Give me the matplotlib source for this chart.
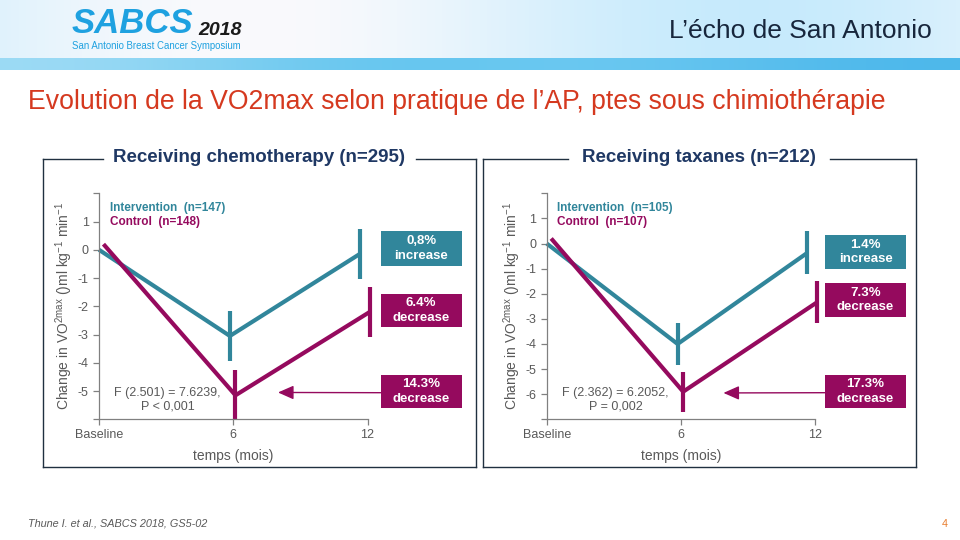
import numpy as np
import matplotlib
matplotlib.use("Agg")
import matplotlib.pyplot as plt
from matplotlib.patches import Rectangle
from matplotlib.lines import Line2D

plt.rcParams['font.family'] = ['Liberation Sans', 'DejaVu Sans']
plt.rcParams['mathtext.default'] = 'regular'

# --- data ---
tick_pos = [0, 6, 12]
tick_labels = ["Baseline", "6", "12"]

# x positions are slightly staggered between the two arms on the slide
int_x = [0, 5.85, 11.65]
ctl_x = [0.2, 6.1, 12.1]

chemo_int = [0, -3.05, -0.15]
chemo_int_err = [0, 0.88, 0.88]
chemo_ctl = [0.2, -5.15, -2.2]
chemo_ctl_err = [0, 0.88, 0.88]

tax_int = [0, -4.0, -0.37]
tax_int_err = [0, 0.85, 0.85]
tax_ctl = [0.2, -5.9, -2.33]
tax_ctl_err = [0, 0.8, 0.82]

TEAL = "#31869b"
MAG = "#950a5e"
NAVY = "#1f3864"
GREY = "#595959"

W, H = 960, 540
fig = plt.figure(figsize=(9.6, 5.4), dpi=100)


def fx(x):
    return x / W


def fy(y):
    return 1 - y / H


# --- header banner ---
ban = fig.add_axes([0, fy(58), 1, 58 / H])
g = np.linspace(0, 1, 256)
banner = np.array([0.88 + 0.1 * np.sin(g * 6), 0.95 + 0.03 * np.sin(g * 6), 0.99 + 0 * g]).T
ban.imshow(np.clip(banner, 0, 1)[None, :, :], aspect='auto', extent=[0, 1, 0, 1])
ban.axis('off')
strip = fig.add_axes([0, fy(70), 1, 12 / H])
sg = np.array([[0.62, 0.86, 0.96], [0.36, 0.76, 0.93], [0.45, 0.80, 0.95], [0.30, 0.72, 0.92]])
strip.imshow(sg[None, :, :], aspect='auto', extent=[0, 1, 0, 1], interpolation='bicubic')
strip.axis('off')

fig.text(fx(72), fy(33), "SABCS", fontsize=25, fontweight='bold', fontstyle='italic',
         color="#1ea1e0", va='baseline')
fig.text(fx(198), fy(35), "2018", fontsize=14, fontweight='bold', fontstyle='italic',
         color="#1a1a1a", va='baseline')
fig.text(fx(72), fy(49), "San Antonio Breast Cancer Symposium", fontsize=6.9,
         color="#1ea1e0", va='baseline')
fig.text(fx(932), fy(38), "L\u2019\u00e9cho de San Antonio", fontsize=19, color="#17263c",
         ha='right', va='baseline')

fig.text(fx(28), fy(109), "Evolution de la VO2max selon pratique de l\u2019AP, ptes sous chimioth\u00e9rapie",
         fontsize=19.2, color="#d5391f", va='baseline')

fig.text(fx(28), fy(527), "Thune I. et al., SABCS 2018, GS5-02", fontsize=7.8, fontstyle='italic',
         color=GREY, va='baseline')
fig.text(fx(948), fy(527), "4", fontsize=7.8, color="#e87d2e", va='baseline', ha='right')


def frame(x0, x1, g0, g1, title, tcx):
    top, bot = 159, 466.7
    segs = [((x0, top), (g0, top)), ((g1, top), (x1, top)), ((x0, top), (x0, bot)),
            ((x1, top), (x1, bot)), ((x0, bot), (x1, bot))]
    for (a, b), (c, d) in segs:
        fig.add_artist(Line2D([fx(a), fx(c)], [fy(b), fy(d)], color="#203040", lw=1))
    fig.text(fx(tcx), fy(158), title, fontsize=13.5, fontweight='bold', color=NAVY,
             ha='center', va='center')


def label_box(x0, y0, x1, y1, color, text):
    fig.add_artist(Rectangle((fx(x0), fy(y1)), fx(x1 - x0), (y1 - y0) / H,
                             facecolor=color, edgecolor='none'))
    fig.text(fx((x0 + x1) / 2), fy((y0 + y1) / 2), text, fontsize=9.5, fontweight='bold',
             color='white', ha='center', va='center', linespacing=1.3)


def panel(left, ylim, yint, yint_err, yctl, yctl_err, n_int, n_ctl, ftext):
    ax = fig.add_axes([fx(left), fy(419.3), fx(268.5), 226 / H])
    ax.plot(int_x, yint, color=TEAL, lw=3, clip_on=False, solid_capstyle='butt')
    ax.plot(ctl_x, yctl, color=MAG, lw=3, clip_on=False, solid_capstyle='butt')
    for i in (1, 2):
        ax.vlines(int_x[i], yint[i] - yint_err[i], yint[i] + yint_err[i], color=TEAL, lw=3, clip_on=False)
        ax.vlines(ctl_x[i], yctl[i] - yctl_err[i], yctl[i] + yctl_err[i], color=MAG, lw=3, clip_on=False)
    ax.set_xlim(0, 12)
    ax.set_ylim(*ylim)
    yt = list(range(ylim[0], ylim[1] + 1))
    ax.set_yticks(yt)
    ax.set_yticklabels(["" if v in ylim else str(v) for v in yt])
    ax.set_xticks(tick_pos)
    ax.set_xticklabels(tick_labels)
    for s in ('top', 'right'):
        ax.spines[s].set_visible(False)
    for s in ('left', 'bottom'):
        ax.spines[s].set_color("#808080")
        ax.spines[s].set_linewidth(0.9)
    ax.tick_params(colors="#808080", labelcolor=GREY, labelsize=9, length=4, width=0.9)
    ax.tick_params(axis='x', pad=3)
    ax.set_xlabel("temps (mois)", fontsize=10, color=GREY, labelpad=6)
    ax.set_ylabel("Change in VO$^{2max}$ ()ml kg$^{-1}$ min$^{-1}$", fontsize=10, color=GREY, labelpad=2)
    ax.patch.set_alpha(0)
    ax.text(0.04, 0.936, "Intervention  (n=%d)" % n_int, transform=ax.transAxes, fontsize=8.5,
            fontweight='bold', color=TEAL, va='center')
    ax.text(0.04, 0.874, "Control  (n=%d)" % n_ctl, transform=ax.transAxes, fontsize=8.5,
            fontweight='bold', color=MAG, va='center')
    ax.text(0.256, 0.087, ftext, transform=ax.transAxes, fontsize=9, color=GREY,
            ha='center', va='center', linespacing=1.25)
    return ax


ax1 = panel(99, (-6, 2), chemo_int, chemo_int_err, chemo_ctl, chemo_ctl_err, 147, 148,
            "F (2.501) = 7.6239,\nP < 0,001")
ax2 = panel(546.7, (-7, 2), tax_int, tax_int_err, tax_ctl, tax_ctl_err, 105, 107,
            "F (2.362) = 6.2052,\nP = 0,002")

frame(43, 476, 103, 416, "Receiving chemotherapy (n=295)", 259)
frame(483, 916, 568, 830, "Receiving taxanes (n=212)", 699)

label_box(380.7, 231, 461.7, 265.7, TEAL, "0,8%\nincrease")
label_box(380.7, 294.3, 461.7, 326.7, MAG, "6.4%\ndecrease")
label_box(380.7, 375, 461.7, 407.7, MAG, "14.3%\ndecrease")
label_box(825, 235, 906, 269, TEAL, "1.4%\nincrease")
label_box(825, 283.3, 906, 316.7, MAG, "7.3%\ndecrease")
label_box(825, 375, 906, 407.7, MAG, "17.3%\ndecrease")

for ax, tip, x0 in ((ax1, (8.0, -5.05), 380.7), (ax2, (7.9, -5.95), 825)):
    ax.annotate("", xy=tip, xycoords='data', xytext=(fx(x0), fy(392.7)), textcoords='figure fraction',
                arrowprops=dict(arrowstyle='-|>,head_length=0.95,head_width=0.42', color=MAG, lw=1,
                                shrinkA=0, shrinkB=0), annotation_clip=False)

fig.savefig("out.png", dpi=100)
